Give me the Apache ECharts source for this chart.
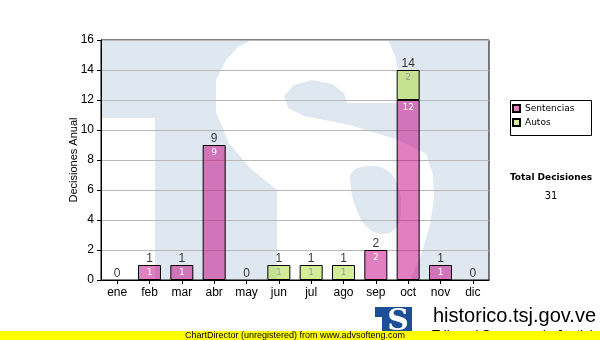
<!DOCTYPE html>
<html>
<head>
<meta charset="utf-8">
<script src="https://cdn.jsdelivr.net/npm/echarts@6/dist/echarts.min.js"></script>
<style>
  html, body { margin: 0; padding: 0; background: #fff; }
  #chart { width: 600px; height: 340px; }
</style>
</head>
<body>
<div id="chart"></div>
<script>
// ---- data ----
var months = ['ene','feb','mar','abr','may','jun','jul','ago','sep','oct','nov','dic'];
var sentencias = [0, 1, 1, 9, 0, 0, 0, 0, 2, 12, 1, 0];
var autos      = [0, 0, 0, 0, 0, 1, 1, 1, 0, 2, 0, 0];
var yTicks = { min: 0, max: 16, interval: 2 };
var seriesNames = ['Sentencias', 'Autos'];
var totalLabel = 'Total Decisiones';
var yName = 'Decisiones Anual';

var totals = months.map(function (m, i) { return sentencias[i] + autos[i]; });
var grandTotal = totals.reduce(function (a, b) { return a + b; }, 0);
function nz(arr) { return arr.map(function (v) { return v === 0 ? '-' : v; }); }

var FONT = 'Liberation Sans, Arial, sans-serif';
var WM_BLUE = '#dfe8f1';

var chart = echarts.init(document.getElementById('chart'), null, { renderer: 'canvas' });

var option = {
  animation: false,
  backgroundColor: '#ffffff',
  grid: { left: 101, top: 40, right: 111, bottom: 60, show: true, borderColor: '#000', borderWidth: 1, backgroundColor: 'transparent', containLabel: false },
  legend: {
    data: seriesNames,
    orient: 'vertical',
    left: 512, top: 104,
    itemWidth: 7, itemHeight: 7, itemGap: 5,
    padding: 0,
    icon: 'rect',
    textStyle: { fontFamily: 'DejaVu Sans, Verdana, sans-serif', fontSize: 9, color: '#000', padding: [0, 0, 0, 0] }
  },
  xAxis: {
    type: 'category',
    data: months,
    boundaryGap: true,
    axisLine: { show: true, lineStyle: { color: '#000', width: 1 } },
    axisTick: { show: true, alignWithLabel: true, length: 4, lineStyle: { color: '#000' } },
    axisLabel: { color: '#000', fontSize: 12, fontFamily: FONT, margin: 7 },
    splitLine: { show: false }
  },
  yAxis: {
    type: 'value',
    min: yTicks.min, max: yTicks.max, interval: yTicks.interval,
    name: yName,
    nameLocation: 'middle',
    nameGap: 22,
    nameMoveOverlap: false,
    nameRotate: 90,
    nameTextStyle: { color: '#000', fontSize: 11, fontFamily: FONT },
    axisLine: { show: true, lineStyle: { color: '#000', width: 1 } },
    axisTick: { show: true, length: 4, lineStyle: { color: '#000' } },
    axisLabel: { color: '#000', fontSize: 12, fontFamily: FONT, margin: 7 },
    splitLine: { show: true, lineStyle: { color: '#b8b8b8', width: 1 } }
  },
  series: [
    {
      name: seriesNames[0], type: 'bar', stack: 'total', barWidth: 23,
      data: nz(sentencias),
      itemStyle: { color: 'rgba(195,0,130,0.5)', borderColor: '#000', borderWidth: 1 },
      label: { show: true, position: 'insideTop', distance: 3, fontSize: 9, color: '#fff', fontFamily: 'DejaVu Sans, sans-serif',
               formatter: function (p) { return p.value ? String(p.value) : ''; } },
      z: 3
    },
    {
      name: seriesNames[1], type: 'bar', stack: 'total', barWidth: 23,
      data: nz(autos),
      itemStyle: { color: 'rgba(170,218,50,0.5)', borderColor: '#000', borderWidth: 1 },
      label: { show: true, position: 'insideTop', distance: 3, fontSize: 9, color: '#999', fontFamily: 'DejaVu Sans, sans-serif',
               formatter: function (p) { return p.value ? String(p.value) : ''; } },
      z: 3
    },
    {
      name: 'total', type: 'scatter', data: totals, symbolSize: 0,
      itemStyle: { color: 'rgba(0,0,0,0)' },
      label: { show: true, position: 'top', distance: 0, fontSize: 12, color: '#000', fontFamily: FONT,
               formatter: function (p) { return String(p.value); } },
      silent: true, z: 4
    }
  ],
  graphic: [
    // watermark (TS logo, enlarged) behind plot
    { type: 'rect', z: -20, silent: true, shape: { x: 101, y: 40, width: 388, height: 240 }, style: { fill: WM_BLUE } },
    { type: 'rect', z: -19, silent: true, shape: { x: 101, y: 118, width: 54, height: 162 }, style: { fill: '#fff' } },
    { type: 'polygon', z: -19, silent: true,
      shape: { points: [[252,40],[388,40],[396,58],[399,82],[398,103],[347,103],[344,93],[332,84],[312,80],[294,85],[284,96],[288,108],[304,116],[350,125],[398,140],[426,154],[433,175],[434,198],[430,225],[421,255],[410,280],[277,280],[277,190],[250,168],[229,143],[216,112],[216,80],[226,60],[238,47]] },
      style: { fill: '#fff' } },
    { type: 'polygon', z: -18, silent: true,
      shape: { points: [[352,172],[370,166],[388,171],[398,186],[401,210],[396,228],[382,234],[366,226],[356,208],[351,188]], smooth: 0.4 },
      style: { fill: WM_BLUE } },
    // legend box
    { type: 'rect', z: 5, silent: true, shape: { x: 510.5, y: 100.5, width: 81, height: 35 }, style: { fill: 'rgba(255,255,255,0)', stroke: '#000', lineWidth: 1 } },
    // total decisions
    { type: 'text', z: 10, silent: true, x: 551, y: 178,
      style: { text: totalLabel, fontFamily: 'DejaVu Sans, Verdana, sans-serif', fontWeight: 'bold', fontSize: 9, fill: '#000', align: 'center', verticalAlign: 'middle' } },
    { type: 'text', z: 10, silent: true, x: 551, y: 196,
      style: { text: String(grandTotal), fontFamily: 'DejaVu Sans, Verdana, sans-serif', fontSize: 10, fill: '#000', align: 'center', verticalAlign: 'middle' } },
    // bottom logo
    { type: 'rect', z: 10, silent: true, shape: { x: 375, y: 307, width: 37, height: 33 }, style: { fill: '#1d4f98' } },
    { type: 'rect', z: 11, silent: true, shape: { x: 375, y: 317, width: 7, height: 16 }, style: { fill: '#fff' } },
    { type: 'text', z: 11, silent: true, x: 398, y: 322,
      style: { text: 'S', fontFamily: 'DejaVu Serif, serif', fontWeight: 'bold', fontSize: 30, fill: '#fff', align: 'center', verticalAlign: 'middle' } },
    { type: 'text', z: 10, silent: true, x: 433, y: 316,
      style: { text: 'historico.tsj.gov.ve', fontFamily: FONT, fontSize: 20, fill: '#000', align: 'left', verticalAlign: 'middle' } },
    { type: 'text', z: 10, silent: true, x: 432, y: 329,
      style: { text: 'Tribunal Supremo de Justicia', fontFamily: FONT, fontSize: 13, fill: '#000', align: 'left', verticalAlign: 'top' } },
    // yellow band
    { type: 'rect', z: 20, silent: true, shape: { x: 0, y: 331, width: 600, height: 9 }, style: { fill: '#ffff00' } },
    { type: 'text', z: 21, silent: true, x: 295, y: 335.5,
      style: { text: 'ChartDirector (unregistered) from www.advsofteng.com', fontFamily: FONT, fontSize: 9, fill: '#000', align: 'center', verticalAlign: 'middle' } }
  ]
};
chart.setOption(option);
</script>
</body>
</html>
